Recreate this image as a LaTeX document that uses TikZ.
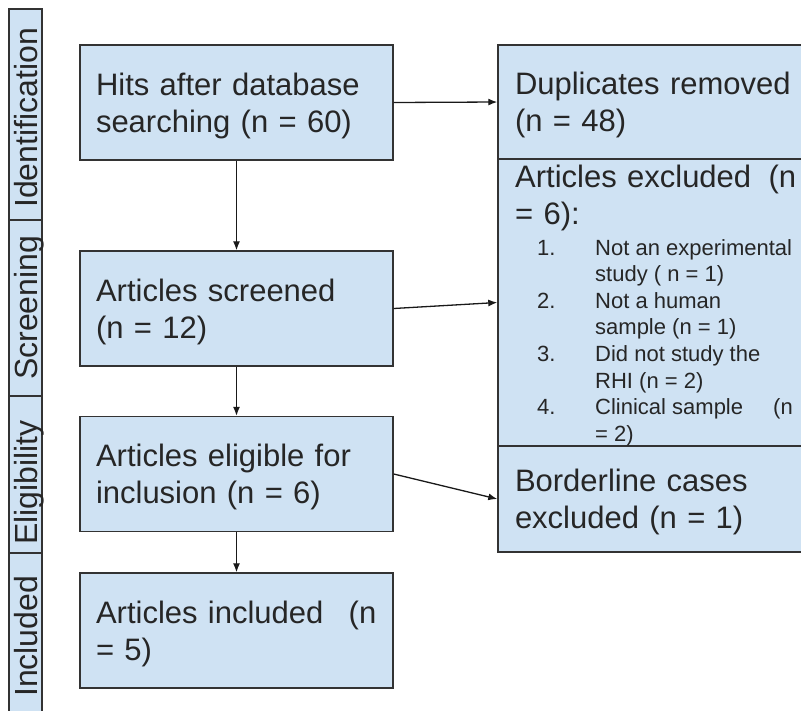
\documentclass[tikz,border=0pt]{standalone}
\usepackage{fontspec}
\setmainfont{Liberation Sans}
\usetikzlibrary{arrows.meta}
\definecolor{boxblue}{HTML}{CFE2F3}
\definecolor{edge}{HTML}{333333}
\newcommand{\bigtxt}{\fontsize{31}{37}\selectfont}
\newcommand{\smalltxt}{\fontsize{22}{26.6}\selectfont}
\newcommand{\stagetxt}{\fontsize{32}{38}\selectfont}
\begin{document}
\begin{tikzpicture}[x=1pt, y=-1pt, font=\bigtxt,
		box/.style={draw=edge, line width=1.4pt, fill=boxblue, text=black!85,
			inner xsep=16pt, inner ysep=0pt, text width=281pt, align=left,
			minimum width=313pt, minimum height=115pt,
			execute at begin node=\rule{0pt}{28.5pt}},
		sidebox/.style={box, inner xsep=17pt, text width=298pt, minimum width=332pt},
		flow/.style={draw=black!90, line width=1.3pt, -{Latex[length=9pt,width=7pt]}},
		stage/.style={rotate=90, anchor=base west, inner sep=0pt, text=black!85, font=\stagetxt}]
	\useasboundingbox (0,0) rectangle (801,710);
	\clip (0,0) rectangle (801,710);
	\foreach \top/\bot in {9/220, 220/396, 396/553, 553/720}
		\draw[draw=edge, line width=1.4pt, fill=boxblue] (9,\top) rectangle (42,\bot);
	\node[stage] (lbl-id) at (37.5,208) {Identification};
	\node[stage] (lbl-scr) at (37.5,380) {Screening};
	\node[stage] (lbl-eli) at (37.5,545) {Eligibility};
	\node[stage] (lbl-inc) at (37.5,697) {Included};
	\node[box] (hits) at (236.5,102.5) {Hits after database\\searching (n = 60)};
	\node[box] (screened) at (236.5,308.5) {Articles screened\\(n = 12)};
	\node[box] (eligible) at (236.5,474) {Articles eligible for\\inclusion (n = 6)};
	\node[box] (included) at (236.5,630.5) {\mbox{Articles included \hspace{15pt}(n}\\= 5)};
	\node[sidebox, minimum height=114pt] (dupl) at (664,102) {Duplicates removed\\(n = 48)};
	\node[sidebox, minimum height=287pt] (excl) at (664,302.5) {};
	\node[sidebox, minimum height=106pt] (border) at (664,499) {Borderline cases\\excluded (n = 1)};
	\node[anchor=base west, inner sep=0pt, text=black!85, text width=310pt, align=left]
		(excl-head) at (515,187) {\mbox{Articles excluded \hspace{7pt}(n}\\= 6):};
	\node[anchor=base west, inner sep=0pt, text=black!85, font=\smalltxt] (excl-list) at (537,255) {%
		\begin{tabular}[t]{@{}p{58pt}@{}l@{}}
			1. & Not an experimental\\
			   & study ( n = 1)\\
			2. & Not a human\\
			   & sample (n = 1)\\
			3. & Did not study the\\
			   & RHI (n = 2)\\
			4. & Clinical sample \hspace{24pt}(n\\
			   & = 2)
		\end{tabular}};
	\draw[flow] (hits.south) -- (screened.north);
	\draw[flow] (screened.south) -- (eligible.north);
	\draw[flow] (eligible.south) -- (included.north);
	\draw[flow] (hits.east) -- (dupl.west);
	\draw[flow] (screened.east) -- (excl.west);
	\draw[flow] (eligible.east) -- (border.west);
\end{tikzpicture}
\end{document}
